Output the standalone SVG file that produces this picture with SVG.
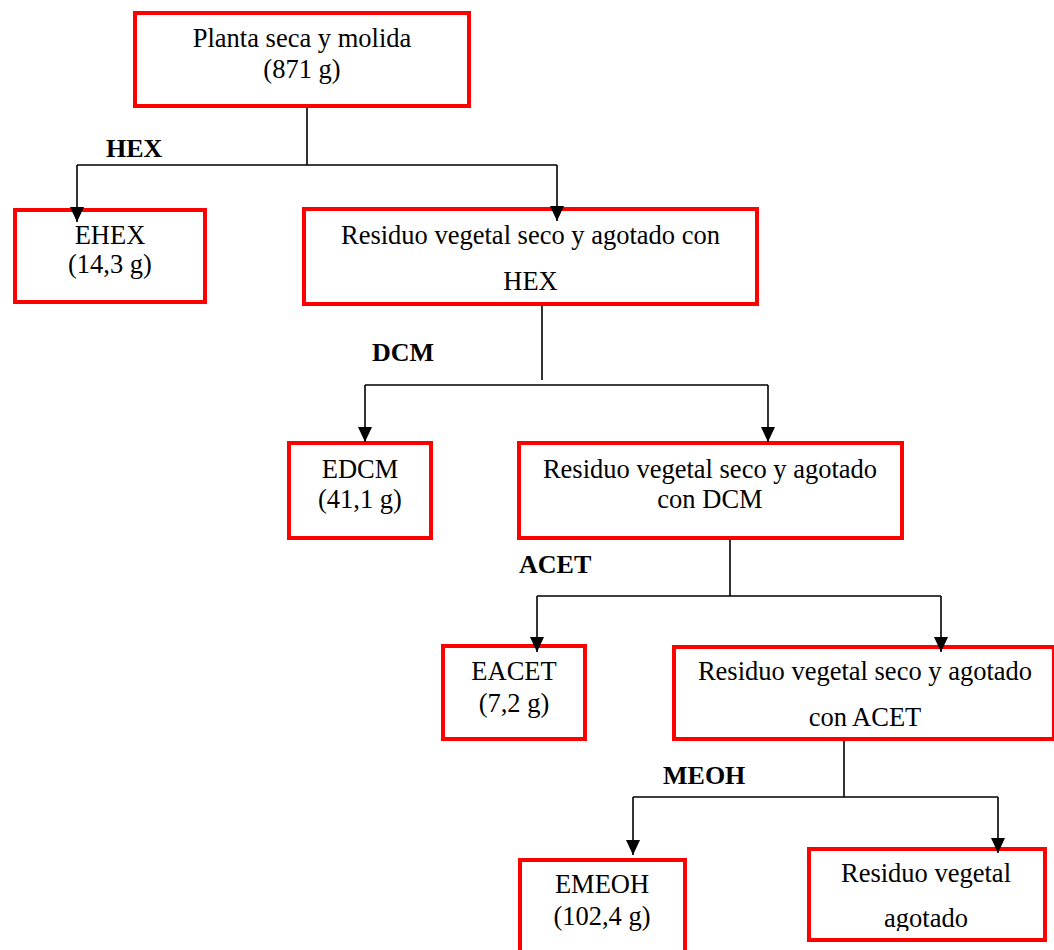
<svg xmlns="http://www.w3.org/2000/svg" width="1054" height="950" viewBox="0 0 1054 950">
<style>
.box{fill:#ffffff;stroke:#ff0000;stroke-width:4}
.t{font-family:"Liberation Serif","Times New Roman",serif;font-size:26.5px;fill:#000;text-anchor:middle}
.lb{font-family:"Liberation Serif","Times New Roman",serif;font-size:26px;font-weight:bold;fill:#000}
.c{fill:none;stroke:#000;stroke-width:1.6}
</style>
<defs>
<marker id="arr" markerUnits="userSpaceOnUse" markerWidth="15" markerHeight="14" refX="15" refY="7" orient="auto">
<path d="M0,0 L15,7 L0,14 z" fill="#000"/>
</marker>
<clipPath id="clipLast"><rect x="809" y="849" width="236" height="82"/></clipPath>
</defs>
<rect width="1054" height="950" fill="#ffffff"/>

<g id="planta">
<rect class="box" x="135" y="13" width="334" height="93"/>
<text class="t" x="302" y="47">Planta seca y molida</text>
<text class="t" x="302" y="78">(871 g)</text>
</g>

<g id="ehex">
<rect class="box" x="15" y="210" width="190" height="92"/>
<text class="t" x="110" y="244">EHEX</text>
<text class="t" x="110" y="273">(14,3 g)</text>
</g>

<g id="residuo-hex">
<rect class="box" x="304" y="209" width="453" height="95"/>
<text class="t" x="530.5" y="244">Residuo vegetal seco y agotado con</text>
<text class="t" x="530.5" y="290">HEX</text>
</g>

<g id="edcm">
<rect class="box" x="289" y="443" width="142" height="95"/>
<text class="t" x="360" y="478">EDCM</text>
<text class="t" x="360" y="508">(41,1 g)</text>
</g>

<g id="residuo-dcm">
<rect class="box" x="519" y="443" width="383" height="95"/>
<text class="t" x="710" y="478">Residuo vegetal seco y agotado</text>
<text class="t" x="710" y="508">con DCM</text>
</g>

<g id="eacet">
<rect class="box" x="443" y="646" width="142" height="93"/>
<text class="t" x="514" y="680">EACET</text>
<text class="t" x="514" y="712">(7,2 g)</text>
</g>

<g id="residuo-acet">
<rect class="box" x="674" y="647" width="380" height="92"/>
<text class="t" x="865" y="680">Residuo vegetal seco y agotado</text>
<text class="t" x="865" y="726">con ACET</text>
</g>

<g id="emeoh">
<rect class="box" x="520" y="860" width="165" height="100"/>
<text class="t" x="602" y="893">EMEOH</text>
<text class="t" x="602" y="925">(102,4 g)</text>
</g>

<g id="residuo-agotado">
<rect class="box" x="809" y="849" width="236" height="91"/>
<text class="t" x="926" y="882">Residuo vegetal</text>
<text class="t" x="926" y="927" clip-path="url(#clipLast)">agotado</text>
</g>

<g id="labels">
<text class="lb" x="106" y="157">HEX</text>
<text class="lb" x="372" y="361">DCM</text>
<text class="lb" x="519" y="573">ACET</text>
<text class="lb" x="663" y="784">MEOH</text>
</g>

<g id="connectors">
<path class="c" d="M307,108 V165 M77,165 H557"/>
<path class="c" d="M77,165 V222" marker-end="url(#arr)"/>
<path class="c" d="M557,165 V221" marker-end="url(#arr)"/>
<path class="c" d="M542,306 V380 M365,385 H768"/>
<path class="c" d="M365,385 V442" marker-end="url(#arr)"/>
<path class="c" d="M768,385 V442" marker-end="url(#arr)"/>
<path class="c" d="M730,540 V596 M537,596 H941"/>
<path class="c" d="M537,596 V652" marker-end="url(#arr)"/>
<path class="c" d="M941,596 V652" marker-end="url(#arr)"/>
<path class="c" d="M844,741 V797 M633,797 H998"/>
<path class="c" d="M633,797 V855" marker-end="url(#arr)"/>
<path class="c" d="M998,797 V853" marker-end="url(#arr)"/>
</g>
</svg>
